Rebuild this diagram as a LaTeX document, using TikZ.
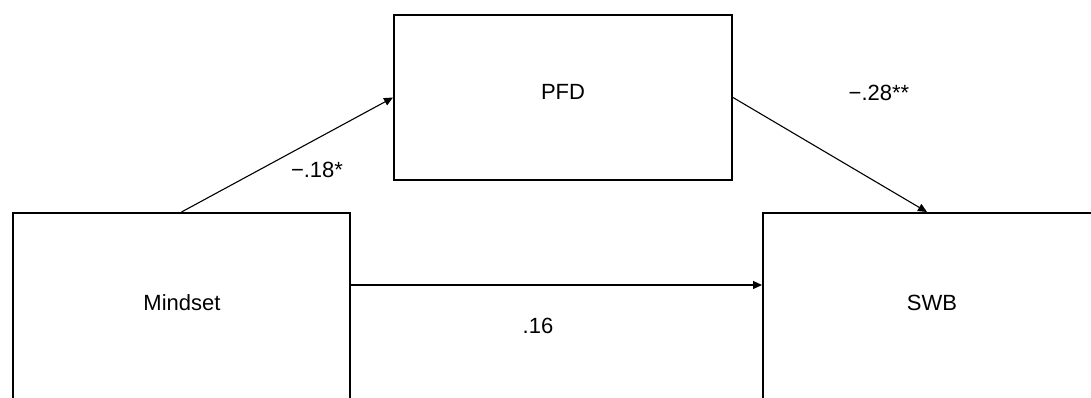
\documentclass[tikz,border=0pt]{standalone}
\usepackage{fontspec}
\setmainfont{Liberation Sans}
\usetikzlibrary{arrows.meta}
\begin{document}
\begin{tikzpicture}[x=1pt,y=-1pt,
  box/.style={draw=black,line width=2pt,rectangle,inner sep=0pt},
  lbl/.style={font=\fontsize{22}{26}\selectfont,inner sep=0pt,anchor=center},
  conn/.style={draw=black,line width=1.1pt,-{Triangle[length=9pt,width=8pt]}}]
\useasboundingbox (0,0) rectangle (1091,397);
\clip (0,0) rectangle (1091,397);
\node[box,minimum width=337pt,minimum height=240pt] (mindset) at (181.5,333) {};
\node[box,minimum width=400pt,minimum height=240pt] (swb) at (963,333) {};
\node[box,minimum width=338pt,minimum height=165pt] (pfd) at (563,97.5) {};
\node[lbl] (tmind) at (182,302.5) {Mindset};
\node[lbl] (tswb) at (932,302.5) {SWB};
\node[lbl] (tpfd) at (563,92) {PFD};
\coordinate (m1) at ([yshift=-73pt]mindset.north east);
\coordinate (s1) at ([yshift=-73pt]swb.north west);
\coordinate (s2) at ([xshift=165pt]swb.north west);
\draw[conn] (mindset.north) -- (pfd.west);
\draw[conn] (pfd.east) -- (s2);
\draw[conn] (m1) -- (s1);
\node[lbl] (l1) at (317,170) {−.18*};
\node[lbl] (l2) at (879,93) {−.28**};
\node[lbl] (l3) at (538,326) {.16};
\end{tikzpicture}
\end{document}
